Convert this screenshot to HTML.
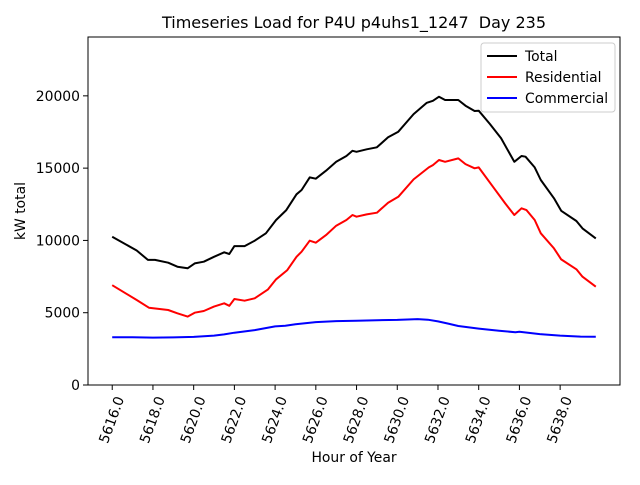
<!DOCTYPE html>
<html><head><meta charset="utf-8"><style>
body{margin:0;background:#fff}
svg{font-family:"DejaVu Sans","Liberation Sans",sans-serif}
</style></head><body>
<svg id="chart" width="640" height="480" xmlns="http://www.w3.org/2000/svg">
<rect width="640" height="480" fill="#fff"/>
<text x="354" y="28" font-size="16" text-anchor="middle" xml:space="preserve">Timeseries Load for P4U p4uhs1_1247  Day 235</text>
<g id="grid"></g>
<g id="series"></g>
<rect x="88" y="37" width="532" height="348" fill="none" stroke="#000" stroke-width="1"/>
<g id="axes"></g>
<text x="354" y="462" font-size="13.9" text-anchor="middle">Hour of Year</text>
<text transform="rotate(-90,25,211)" x="25" y="211" font-size="13.9" text-anchor="middle">kW total</text>
<g>
<rect x="481" y="43" width="134" height="69" rx="3" fill="#fff" stroke="#ccc"/>
<line x1="487" y1="56" x2="517" y2="56" stroke="#000" stroke-width="2"/>
<text x="525" y="61" font-size="13.9">Total</text>
<line x1="487" y1="77" x2="517" y2="77" stroke="#f00" stroke-width="2"/>
<text x="525" y="82" font-size="13.9">Residential</text>
<line x1="487" y1="98" x2="517" y2="98" stroke="#00f" stroke-width="2"/>
<text x="525" y="103" font-size="13.9">Commercial</text>
</g>
</svg>
<script>
const totalHours=[5616,5617.2,5617.75,5618.1,5618.75,5619.2,5619.7,5620.05,5620.5,5621,5621.5,5621.75,5622,5622.5,5623,5623.55,5624.05,5624.55,5625.05,5625.3,5625.7,5626,5626.5,5627,5627.5,5627.8,5628,5628.5,5629,5629.55,5630.05,5630.8,5631.45,5631.75,5632.05,5632.35,5633,5633.35,5633.8,5634,5634.55,5635.1,5635.75,5636.1,5636.3,5636.75,5637.05,5637.7,5638.05,5638.8,5639.1,5639.75];
const totalValues=[10250,9300,8650,8650,8460,8180,8070,8410,8530,8870,9180,9060,9610,9610,9980,10490,11410,12100,13190,13490,14360,14270,14820,15440,15840,16200,16130,16300,16440,17130,17520,18740,19520,19660,19940,19710,19710,19320,18950,18970,18050,17060,15440,15840,15790,15050,14180,12910,12050,11340,10830,10140];
const resHours=[5616,5617.2,5617.8,5618.75,5619.2,5619.7,5620.05,5620.5,5621,5621.5,5621.75,5622,5622.5,5623,5623.65,5624.05,5624.6,5625.05,5625.3,5625.7,5626,5626.5,5627,5627.5,5627.8,5628,5628.5,5629,5629.55,5630.05,5630.8,5631.55,5631.75,5632.05,5632.35,5633,5633.35,5633.8,5634,5634.7,5635.3,5635.75,5636.1,5636.35,5636.75,5637.05,5637.7,5638.05,5638.8,5639.1,5639.75];
const resValues=[6900,5880,5350,5190,4960,4730,5000,5120,5420,5650,5480,5950,5830,6000,6610,7310,7950,8870,9220,9980,9840,10370,11020,11410,11760,11640,11800,11920,12610,13020,14220,15050,15210,15560,15440,15670,15280,14990,15050,13710,12560,11760,12220,12100,11410,10490,9450,8690,8000,7490,6800];
const comHours=[5616,5617,5618,5619,5620,5621,5621.5,5622,5623,5624,5624.5,5625,5626,5627,5628,5629,5630,5631,5631.5,5632,5632.5,5633,5634,5635,5635.8,5636,5637,5638,5639,5639.75];
const comValues=[3300,3300,3280,3290,3330,3420,3500,3620,3800,4050,4100,4200,4350,4420,4450,4480,4500,4560,4520,4400,4250,4080,3900,3750,3650,3680,3520,3420,3350,3340];
const yTicks=[0,5000,10000,15000,20000];
const xTicks=[5616,5618,5620,5622,5624,5626,5628,5630,5632,5634,5636,5638];
const NS="http://www.w3.org/2000/svg";
const X0=5614.81,X1=5640.94,Y1=24070;
function sx(h){return 88+(h-X0)/(X1-X0)*532;}
function sy(v){return 385-v/Y1*348;}
const axes=document.getElementById('axes'),series=document.getElementById('series');
yTicks.forEach(v=>{
 const l=document.createElementNS(NS,'line');
 
 
 l.setAttribute('x1',83);l.setAttribute('x2',88);l.setAttribute('y1',sy(v));l.setAttribute('y2',sy(v));l.setAttribute('stroke','#000');
 axes.appendChild(l);
 const t=document.createElementNS(NS,'text');
 
 
 t.setAttribute('x',80);t.setAttribute('y',sy(v)+5);t.setAttribute('text-anchor','end');t.setAttribute('font-size','13.9');
 t.textContent=v;axes.appendChild(t);
});
xTicks.forEach(h=>{
 const x=sx(h);
 const l=document.createElementNS(NS,'line');
 
 
 l.setAttribute('x1',x);l.setAttribute('x2',x);l.setAttribute('y1',385);l.setAttribute('y2',390);l.setAttribute('stroke','#000');
 axes.appendChild(l);
 const t=document.createElementNS(NS,'text');
 
 
 t.setAttribute('x',x);t.setAttribute('y',420);t.setAttribute('text-anchor','middle');t.setAttribute('dominant-baseline','central');t.setAttribute('font-size','13.9');
 t.setAttribute('transform','rotate(-70,'+x+',420)');
 t.textContent=h.toFixed(1);axes.appendChild(t);
});
function line(hs,vs,color,name){
 const p=document.createElementNS(NS,'polyline');
 
 
 p.setAttribute('points',hs.map((h,i)=>sx(h).toFixed(1)+','+sy(vs[i]).toFixed(1)).join(' '));
 p.setAttribute('fill','none');p.setAttribute('stroke',color);p.setAttribute('stroke-width','2');p.setAttribute('stroke-linejoin','round');
 series.appendChild(p);
}
line(totalHours,totalValues,'#000','total-line');
line(resHours,resValues,'#f00','residential-line');
line(comHours,comValues,'#00f','commercial-line');
</script>
</body></html>
